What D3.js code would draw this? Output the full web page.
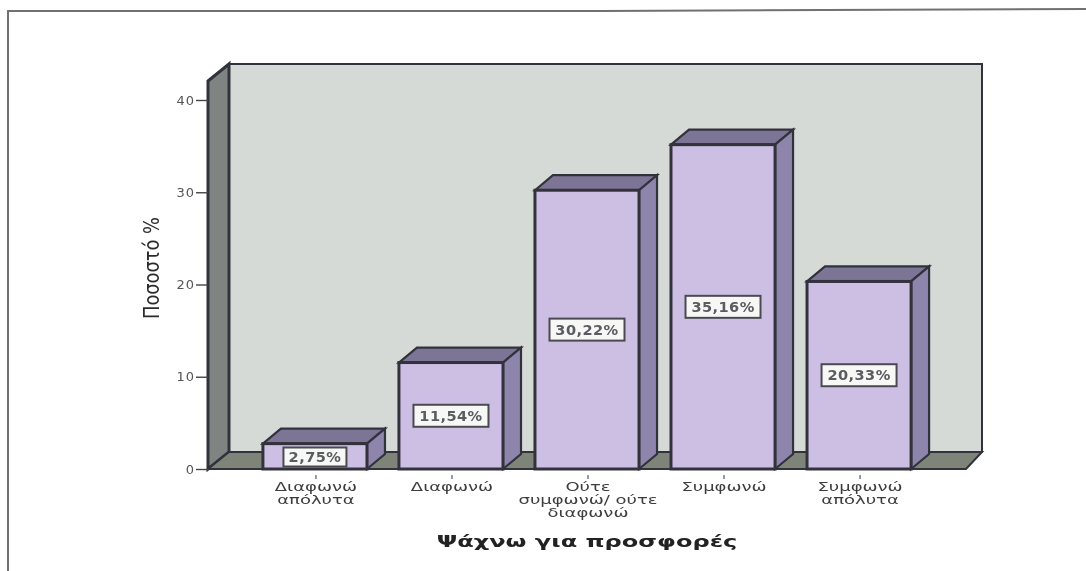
<!DOCTYPE html>
<html><head><meta charset="utf-8">
<script src="https://cdn.jsdelivr.net/npm/d3@7"></script>
<style>html,body{margin:0;padding:0;background:#fff}svg{display:block}text{font-family:"DejaVu Sans",sans-serif}</style>
</head><body><svg id="c" width="1086" height="571"></svg>
<script>
const categories=[["Διαφωνώ","απόλυτα"],["Διαφωνώ"],["Ούτε","συμφωνώ/ ούτε","διαφωνώ"],["Συμφωνώ"],["Συμφωνώ","απόλυτα"]];
const values=[2.75,11.54,30.22,35.16,20.33];
const valueLabels=["2,75%","11,54%","30,22%","35,16%","20,33%"];
const yTicks=[0,10,20,30,40];
const yTitle="Ποσοστό %";
const xTitle="Ψάχνω για προσφορές";

const svg=d3.select("#c");
const defs=svg.append("defs");
defs.append("filter").attr("id","soft").attr("filterUnits","userSpaceOnUse").attr("x",0).attr("y",0).attr("width",1086).attr("height",571).append("feGaussianBlur").attr("stdDeviation",0.75);
const g=svg.append("g").attr("filter","url(#soft)");
const dx=21,dy=17, bdx=18,bdy=15;
const y=d3.scaleLinear().domain([0,40]).range([469,100]);
const x=d3.scaleBand().domain(d3.range(5)).range([247,927]).paddingInner(0.235).paddingOuter(0.117);
const line="#33323d";
const wide=(sel,px,py,sx)=>sel.attr("text-anchor","middle").attr("transform",`translate(${px},${py}) scale(${sx},1)`);

// frame
g.append("path").attr("d","M8,571V11H600L1086,9").attr("fill","none").attr("stroke","#6f7173").attr("stroke-width",2);

const x0=208,x1=966,xB=982,yT=81,yB=y(0);
// back wall
g.append("rect").attr("x",x0+dx).attr("y",yT-dy).attr("width",xB-x0-dx).attr("height",yB-yT).attr("fill","#d6dad6").attr("stroke",line).attr("stroke-width",2);
// left wall
g.append("path").attr("d",`M${x0},${yT}L${x0+dx},${yT-dy}V${yB-dy}L${x0},${yB}Z`).attr("fill","#7f8482").attr("stroke",line).attr("stroke-width",3);
// floor
g.append("path").attr("d",`M${x0},${yB}L${x0+dx},${yB-dy}H${xB}L${x1},${yB}Z`).attr("fill","#7f8478").attr("stroke",line).attr("stroke-width",2);

// ticks
const yAxis=d3.axisLeft(y).tickValues(yTicks).tickSize(12).tickPadding(1).tickFormat(d3.format("d"));
const ya=g.append("g").attr("transform",`translate(${x0},0)`).call(yAxis);
ya.select(".domain").remove();
ya.selectAll("line").attr("stroke","#444").attr("stroke-width",1.4);
ya.selectAll("text").attr("font-size",13).attr("fill","#555").attr("font-family","DejaVu Sans").style("letter-spacing","1px");

// bars
const bars=g.selectAll(".bar").data(values).join("g");
bars.each(function(v,i){
  const s=d3.select(this),l=x(i),w=x.bandwidth(),t=y(v);
  s.append("path").attr("d",`M${l},${t}L${l+bdx},${t-bdy}H${l+w+bdx}L${l+w},${t}Z`).attr("fill","#7d7596").attr("stroke",line).attr("stroke-width",2.2);
  s.append("path").attr("d",`M${l+w},${t}L${l+w+bdx},${t-bdy}V${yB-bdy}L${l+w},${yB}Z`).attr("fill","#8d85ac").attr("stroke",line).attr("stroke-width",2.2);
  s.append("rect").attr("x",l).attr("y",t).attr("width",w).attr("height",yB-t).attr("fill","#cdbfe4").attr("stroke",line).attr("stroke-width",3);
  const cy=i===0?yB-12:(t+yB)/2, cx=l+w/2, bw=i===0?63:75, bh=i===0?19:22;
  s.append("rect").attr("x",cx-bw/2).attr("y",cy-bh/2).attr("width",bw).attr("height",bh).attr("fill","#f7f8f6").attr("stroke","#4a4a50").attr("stroke-width",2);
  wide(s.append("text"),cx,cy+5,1.08).attr("font-size",13.5).attr("font-weight","bold").attr("fill","#5a5b60").style("letter-spacing","0.4px").text(valueLabels[i]);
  // category tick
  s.append("line").attr("x1",cx+1).attr("x2",cx+1).attr("y1",475).attr("y2",479).attr("stroke","#666").attr("stroke-width",1.3);
  categories[i].forEach((c,j)=>{
    wide(s.append("text"),cx+1,491+j*13,1.5).attr("font-size",12).attr("fill","#3e3e3e").text(c);
  });
});

g.append("text").attr("transform","translate(159,268) rotate(-90)").attr("text-anchor","middle").attr("font-size",21).attr("fill","#2c2c2c").attr("textLength",102).attr("lengthAdjust","spacingAndGlyphs").text(yTitle);
wide(g.append("text"),587,547,1.46).attr("font-size",16.5).attr("font-weight","bold").attr("fill","#222").text(xTitle);
</script></body></html>
